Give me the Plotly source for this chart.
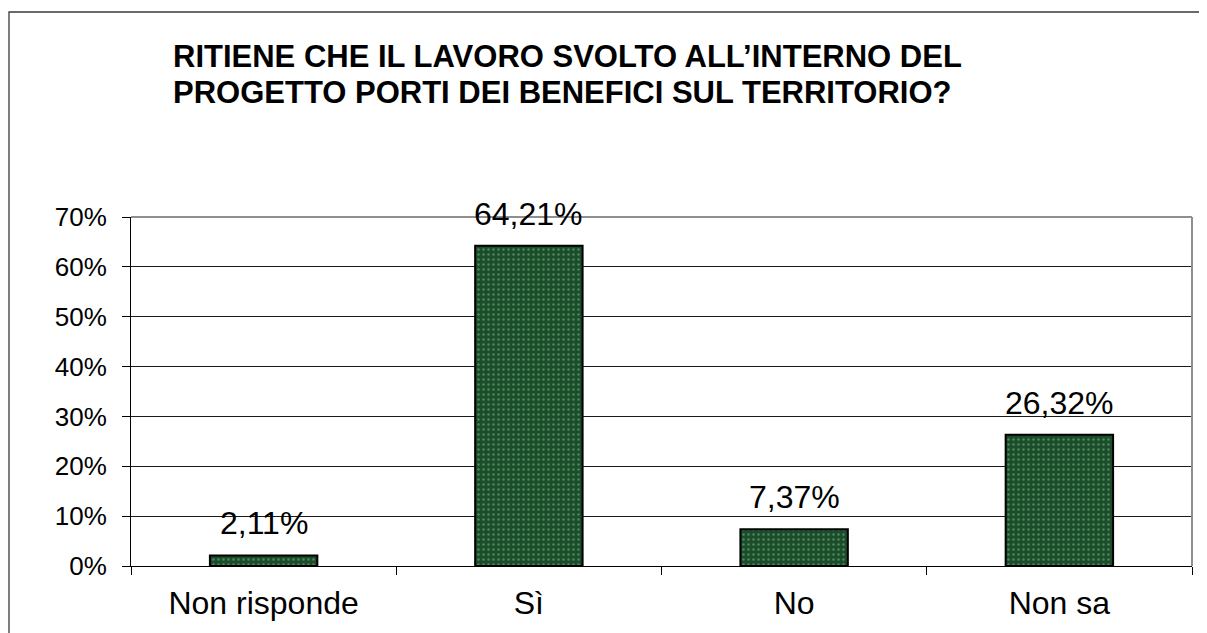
import plotly.graph_objects as go

categories = ["Non risponde", "Sì", "No", "Non sa"]
values = [0.0211, 0.6421, 0.0737, 0.2632]
title_lines = ["RITIENE CHE IL LAVORO SVOLTO ALL’INTERNO DEL",
               "PROGETTO PORTI DEI BENEFICI SUL TERRITORIO?"]
y_ticks = [0, 0.1, 0.2, 0.3, 0.4, 0.5, 0.6, 0.7]
y_tick_labels = ["0%", "10%", "20%", "30%", "40%", "50%", "60%", "70%"]

FONT = "Liberation Sans, Arial, sans-serif"

# page has an 8px body margin; figure coords = page coords - 8
W, H = 1199, 625
L, R, T, B = 123, 15, 209, 67
PW = W - L - R
PH = H - T - B


def px_x(x):
    return (x - L) / PW


def px_y(y):
    return (H - B - y) / PH


fig = go.Figure()
fig.add_trace(go.Bar(
    x=categories,
    y=values,
    marker=dict(
        color="#22552f",
        line=dict(color="#000000", width=2),
        pattern=dict(shape=".", bgcolor="#1d4c2b", fgcolor="#4a8a5c",
                     size=5, solidity=0.18, fillmode="replace"),
    ),
    width=0.405,
    hoverinfo="skip",
))

for c, v in zip(categories, values):
    fig.add_annotation(
        x=c, y=v, xref="x", yref="y",
        text=f"{v*100:.2f}".replace(".", ",") + "%",
        showarrow=False, yanchor="bottom", yshift=12,
        font=dict(family=FONT, size=32, color="#000000"),
    )

for i, line in enumerate(title_lines):
    fig.add_annotation(
        xref="paper", yref="paper",
        x=px_x(163), y=px_y(29 + 36 * i),
        xanchor="left", yanchor="top", align="left",
        text="<b>" + line + "</b>",
        showarrow=False,
        font=dict(family=FONT, size=31, color="#000000"),
    )

# outer chart frame
fig.add_shape(type="rect", xref="paper", yref="paper",
              x0=px_x(1), x1=1.05, y0=-0.4, y1=px_y(4),
              line=dict(color="#3a3a3a", width=1.3), layer="below")
# plot-area border top and right (gray)
fig.add_shape(type="line", xref="paper", yref="paper",
              x0=0, x1=1, y0=1, y1=1,
              line=dict(color="#8f8f8f", width=2), layer="above")
fig.add_shape(type="line", xref="paper", yref="paper",
              x0=1, x1=1, y0=0, y1=1,
              line=dict(color="#8f8f8f", width=2), layer="above")

fig.update_layout(
    width=W, height=H,
    margin=dict(l=L, r=R, t=T, b=B),
    paper_bgcolor="white", plot_bgcolor="white",
    showlegend=False,
    font=dict(family=FONT, color="#000000"),
    bargap=0.6,
)
fig.update_xaxes(
    type="category",
    showline=True, linecolor="#000000", linewidth=1,
    ticks="outside", tickson="boundaries", ticklen=8, tickcolor="#000000",
    tickfont=dict(family=FONT, size=32, color="#000000"),
    showgrid=False, zeroline=False, ticklabelstandoff=9,
)
fig.update_yaxes(
    range=[0, 0.7],
    tickvals=y_ticks, ticktext=y_tick_labels,
    showline=True, linecolor="#000000", linewidth=1,
    ticks="outside", ticklen=8, tickcolor="#000000",
    tickfont=dict(family=FONT, size=26, color="#000000"),
    showgrid=True, gridcolor="#1a1a1a", gridwidth=1,
    zeroline=False, ticklabelstandoff=10,
)

fig.write_html("out.html")
